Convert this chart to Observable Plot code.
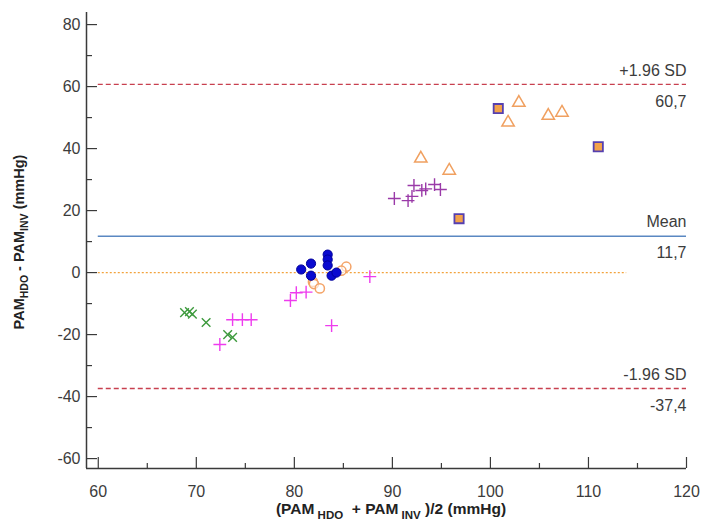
<!DOCTYPE html>
<html>
<head>
<meta charset="utf-8">
<script src="https://cdn.jsdelivr.net/npm/d3@7"></script>
<script src="https://cdn.jsdelivr.net/npm/@observablehq/plot@0.6"></script>
<style>
  body { margin: 0; background: #fff; }
  #chart svg { font-family: "Liberation Sans", Arial, sans-serif; }
</style>
</head>
<body>
<div id="chart"></div>
<script>
// ---- data ----
const greenX = [[68.8,-12.9],[69.3,-12.6],[69.6,-13.4],[71.0,-16.1],[73.2,-20.0],[73.7,-20.9]];
const magentaPlus = [[72.4,-23.2],[73.7,-15.2],[74.7,-15.2],[75.6,-15.2],[79.6,-9.0],[80.2,-6.5],[81.2,-6.3],[83.8,-17.1],[87.7,-1.3]];
const purplePlus = [[90.2,23.9],[91.6,23.2],[92.0,24.6],[92.2,28.1],[93.0,26.5],[93.4,27.0],[94.3,28.4],[94.9,26.8]];
const blueCircles = [[80.7,1.0],[81.7,2.9],[81.7,-1.0],[83.4,5.8],[83.4,4.2],[83.4,2.3],[83.8,-1.0],[84.3,0.0]];
const orangeCircles = [[85.3,1.9],[84.8,0.6],[81.9,-3.0],[82.0,-3.7],[82.6,-5.1]];
const orangeTriangles = [[92.9,36.8],[95.8,32.9],[101.8,48.4],[102.9,54.8],[105.9,50.6],[107.3,51.6]];
const squares = [[100.8,52.9],[96.8,17.4],[111.0,40.6]];

const meanDiff = 11.7;
const upperLoA = 60.7;
const lowerLoA = -37.4;
const zeroLineEnd = 113.9;

const xTicks = [60, 70, 80, 90, 100, 110, 120];
const xMinorTicks = [65, 75, 85, 95, 105, 115];
const yTicks = [-60, -40, -20, 0, 20, 40, 60, 80];
const yMinorTicks = [-50, -30, -10, 10, 30, 50, 70];

const lineLabels = [
  {top: "+1.96 SD", bottom: "60,7", value: upperLoA},
  {top: "Mean", bottom: "11,7", value: meanDiff},
  {top: "-1.96 SD", bottom: "-37,4", value: lowerLoA}
];

// ---- layout ----
const W = 707, H = 525;
const mL = 86, mR = 21, mT = 12, mB = 57;
const xDom = [58.8, 120];
const yDom = [-63.2, 83.9];
const pxX = (W - mL - mR) / (xDom[1] - xDom[0]);   // px per x unit
const pxY = (H - mT - mB) / (yDom[1] - yDom[0]);   // px per y unit

const pts = a => a.map(([x, y]) => ({x, y}));
const axisCol = "#3a3a3a";
const textCol = "#3c3c3c";

const chart = Plot.plot({
  width: W, height: H,
  marginLeft: mL, marginRight: mR, marginTop: mT, marginBottom: mB,
  x: {domain: xDom, axis: null},
  y: {domain: yDom, axis: null},
  marks: [
    // reference lines
    Plot.ruleY([upperLoA, lowerLoA], {x1: 60, x2: xDom[1], stroke: "#c8404f", strokeWidth: 1.3, strokeDasharray: "5,3"}),
    Plot.ruleY([meanDiff], {x1: 60, x2: xDom[1], stroke: "#5a88c2", strokeWidth: 1.6}),
    Plot.ruleY([0], {x1: 60, x2: zeroLineEnd, stroke: "#f2a23c", strokeWidth: 1.3, strokeDasharray: "2,2"}),
    // line labels
    Plot.text(lineLabels, {x: xDom[1], y: "value", text: "top", textAnchor: "end", dy: -14, fontSize: 16, fill: textCol}),
    Plot.text(lineLabels, {x: xDom[1], y: "value", text: "bottom", textAnchor: "end", dy: 17, fontSize: 16, fill: textCol}),
    // data
    Plot.dot(pts(greenX), {x: "x", y: "y", symbol: "times", r: 4, stroke: "#3d9a3d", strokeWidth: 1.4}),
    Plot.dot(pts(magentaPlus), {x: "x", y: "y", symbol: "plus", r: 4.2, stroke: "#ee3cee", strokeWidth: 1.4}),
    Plot.dot(pts(purplePlus), {x: "x", y: "y", symbol: "plus", r: 4.2, stroke: "#9a3aa8", strokeWidth: 1.4}),
    Plot.dot(pts(orangeCircles), {x: "x", y: "y", r: 4.6, stroke: "#f4a468", fill: "white", fillOpacity: 0.6, strokeWidth: 1.5}),
    Plot.dot(pts(blueCircles), {x: "x", y: "y", r: 4.6, fill: "#0a0ad0", stroke: "#00009a", strokeWidth: 1}),
    Plot.dot(pts(orangeTriangles), {x: "x", y: "y", symbol: "triangle", r: 4.6, stroke: "#f0a060", fill: "none", strokeWidth: 1.5}),
    Plot.dot(pts(squares), {x: "x", y: "y", symbol: "square", r: 5.2, fill: "#f3a24a", stroke: "#5540b0", strokeWidth: 1.8}),
    // axes lines
    Plot.ruleX([xDom[0]], {y1: yDom[0], y2: yDom[1], stroke: axisCol, strokeWidth: 1.5}),
    Plot.ruleY([yDom[0]], {x1: xDom[0], x2: xDom[1], stroke: axisCol, strokeWidth: 1.5}),
    // inward ticks
    Plot.ruleY(yTicks, {x1: xDom[0], x2: xDom[0] + 11 / pxX, stroke: axisCol, strokeWidth: 1.2}),
    Plot.ruleY(yMinorTicks, {x1: xDom[0], x2: xDom[0] + 6 / pxX, stroke: axisCol, strokeWidth: 1.2}),
    Plot.ruleX(xTicks, {y1: yDom[0], y2: yDom[0] + 11 / pxY, stroke: axisCol, strokeWidth: 1.2}),
    Plot.ruleX(xMinorTicks, {y1: yDom[0], y2: yDom[0] + 5 / pxY, stroke: axisCol, strokeWidth: 1.2}),
    // tick labels
    Plot.text(yTicks, {x: xDom[0], y: d => d, text: d => String(d), textAnchor: "end", dx: -6, fontSize: 16, fill: textCol}),
    Plot.text(xTicks, {x: d => d, y: yDom[0], text: d => String(d), dy: 23, fontSize: 16, fill: textCol})
  ]
});

document.getElementById("chart").appendChild(chart);

// axis titles with subscripts (real text)
const svg = d3.select(chart);
const yl = svg.append("text")
  .attr("transform", `translate(24,${mT + (H - mT - mB) / 2 + 2}) rotate(-90)`)
  .attr("text-anchor", "middle")
  .attr("font-weight", "bold").attr("font-size", 14.5).attr("fill", "#222");
yl.append("tspan").text("PAM");
yl.append("tspan").attr("font-size", 10.5).attr("dy", 4).text("HDO");
yl.append("tspan").attr("dy", -4).text(" - PAM");
yl.append("tspan").attr("font-size", 10.5).attr("dy", 4).text("INV");
yl.append("tspan").attr("dy", -4).text(" (mmHg)");

const xl = svg.append("text")
  .attr("transform", `translate(${mL + (W - mL - mR) / 2 + 5},${H - 11})`)
  .attr("text-anchor", "middle")
  .attr("font-weight", "bold").attr("font-size", 15.5).attr("fill", "#222");
xl.append("tspan").text("(PAM");
xl.append("tspan").attr("font-size", 11.5).attr("dy", 5).text(" HDO");
xl.append("tspan").attr("dy", -5).text("  + PAM");
xl.append("tspan").attr("font-size", 11.5).attr("dy", 5).text(" INV");
xl.append("tspan").attr("dy", -5).text(" )/2 (mmHg)");
</script>
</body>
</html>
